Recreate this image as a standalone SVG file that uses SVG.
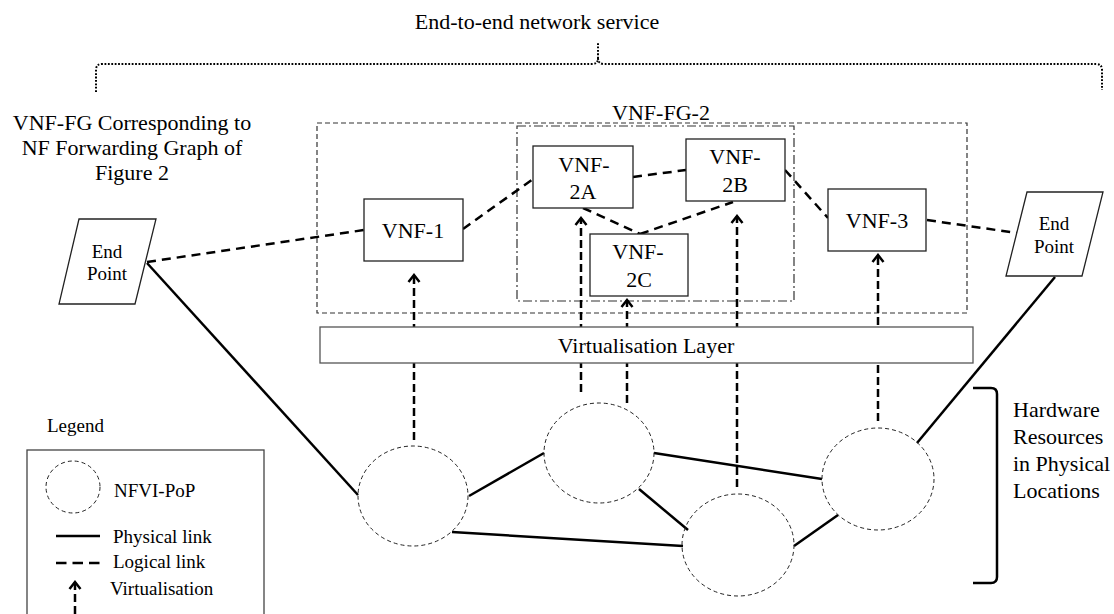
<svg xmlns="http://www.w3.org/2000/svg" width="1114" height="614" viewBox="0 0 1114 614">
<defs>
<style>
text{font-family:"Liberation Serif","Times New Roman",serif;font-size:22px;fill:#000}
.sm{font-size:19px}
.mid{text-anchor:middle}
.box{fill:#fff;stroke:#222;stroke-width:1.3}
.pop{fill:none;stroke:#222;stroke-width:1;stroke-dasharray:4 3}
.phys{stroke:#000;stroke-width:2.5;fill:none}
.logi{stroke:#000;stroke-width:2.5;fill:none;stroke-dasharray:9 6}
.virt{stroke:#000;stroke-width:2.5;fill:none;stroke-dasharray:8 4;marker-end:url(#vArrow)}
</style>
<marker id="vArrow" viewBox="-9 -7 11 14" refX="0" refY="0" markerWidth="11" markerHeight="14" markerUnits="userSpaceOnUse" orient="auto">
<path d="M-7,-5.5 L0,0 L-7,5.5" fill="none" stroke="#000" stroke-width="2.5" stroke-dasharray="none"/>
</marker>
</defs>
<rect width="1114" height="614" fill="#fff"/>

<g id="service-brace">
<path d="M96,92 V70 Q96,64 102,64 H592 Q598,64 598,58 V43 M598,58 Q598,64 604,64 H1096 Q1102,64 1102,70 V90" fill="none" stroke="#000" stroke-width="2" stroke-dasharray="1.8 1.6"/>
<text class="mid" x="537" y="29">End-to-end network service</text>
</g>

<g id="vnffg-caption">
<text class="mid" x="132" y="130">VNF-FG Corresponding to</text>
<text class="mid" x="132" y="155">NF Forwarding Graph of</text>
<text class="mid" x="132" y="180">Figure 2</text>
</g>

<g id="vnffg-box">
<rect x="317" y="123" width="650" height="190" fill="none" stroke="#333" stroke-width="1.2" stroke-dasharray="5 3"/>
</g>

<g id="vnffg2-box">
<rect x="517" y="126" width="277" height="175" fill="none" stroke="#333" stroke-width="1.2" stroke-dasharray="9 3 2 3"/>
<text class="mid" x="661" y="120">VNF-FG-2</text>
</g>

<g id="connectors">
<!-- logical links -->
<line class="logi" x1="147" y1="262" x2="364" y2="230"/>
<line class="logi" x1="463" y1="229" x2="533" y2="179"/>
<line class="logi" x1="633" y1="177" x2="686" y2="170"/>
<line class="logi" x1="583" y1="208" x2="640" y2="234"/>
<line class="logi" x1="640" y1="234" x2="733" y2="202"/>
<line class="logi" x1="785" y1="170" x2="828" y2="218"/>
<line class="logi" x1="927" y1="220" x2="1017" y2="233"/>
<!-- physical links -->
<line class="phys" x1="147" y1="263" x2="358" y2="495"/>
<line class="phys" x1="469" y1="496" x2="544" y2="453"/>
<line class="phys" x1="452" y1="532" x2="683" y2="546"/>
<line class="phys" x1="639" y1="489" x2="688" y2="530"/>
<line class="phys" x1="654" y1="453" x2="822" y2="479"/>
<line class="phys" x1="794" y1="546" x2="838" y2="515"/>
<line class="phys" x1="917" y1="443" x2="1055" y2="277"/>
<!-- virtualisation -->
<line class="virt" x1="414" y1="440" x2="414" y2="275"/>
<line class="virt" x1="581" y1="392" x2="581" y2="218"/>
<line class="virt" x1="627" y1="403" x2="627" y2="300"/>
<line class="virt" x1="737" y1="487" x2="737" y2="216"/>
<line class="virt" x1="878" y1="421" x2="878" y2="255"/>
</g>

<g id="virtualisation-layer">
<rect x="320" y="327" width="653" height="36" fill="#fff" stroke="#555" stroke-width="1.3"/>
<text class="mid" x="646" y="353">Virtualisation Layer</text>
</g>

<g id="endpoint-left">
<polygon points="79,219 156,219 135,304 59,304" class="box"/>
<text class="mid sm" x="107" y="258">End</text>
<text class="mid sm" x="107" y="280">Point</text>
</g>

<g id="endpoint-right">
<polygon points="1027,192 1103,192 1082,276 1006,276" class="box"/>
<text class="mid sm" x="1054" y="230">End</text>
<text class="mid sm" x="1054" y="253">Point</text>
</g>

<g id="vnf-1">
<rect class="box" x="364" y="199" width="99" height="62"/>
<text class="mid" x="413" y="238">VNF-1</text>
</g>

<g id="vnf-2a">
<rect class="box" x="533" y="146" width="100" height="62"/>
<text class="mid" x="584" y="172">VNF-</text>
<text class="mid" x="583" y="199">2A</text>
</g>

<g id="vnf-2b">
<rect class="box" x="686" y="139" width="99" height="62"/>
<text class="mid" x="735" y="164">VNF-</text>
<text class="mid" x="735" y="192">2B</text>
</g>

<g id="vnf-2c">
<rect class="box" x="590" y="234" width="98" height="62"/>
<text class="mid" x="638" y="259">VNF-</text>
<text class="mid" x="639" y="287">2C</text>
</g>

<g id="vnf-3">
<rect class="box" x="828" y="189" width="98" height="62"/>
<text class="mid" x="877" y="228">VNF-3</text>
</g>

<g id="pop-1"><ellipse class="pop" cx="413" cy="496" rx="55" ry="50"/></g>
<g id="pop-2"><ellipse class="pop" cx="599" cy="453" rx="55" ry="50"/></g>
<g id="pop-3"><ellipse class="pop" cx="878" cy="479" rx="56" ry="51"/></g>
<g id="pop-4"><ellipse class="pop" cx="738" cy="545" rx="56" ry="51"/></g>

<g id="hardware-bracket">
<path d="M973,388 H991 Q997,388 997,394 V577 Q997,583 991,583 H973" fill="none" stroke="#000" stroke-width="2.5"/>
<text x="1013" y="417">Hardware</text>
<text x="1013" y="444">Resources</text>
<text x="1013" y="471">in Physical</text>
<text x="1013" y="498">Locations</text>
</g>

<g id="legend">
<text class="sm" x="47" y="432">Legend</text>
<rect x="27" y="450" width="237" height="200" fill="none" stroke="#444" stroke-width="1.3"/>
<ellipse class="pop" cx="73" cy="487" rx="27" ry="26"/>
<text class="sm" x="114" y="497">NFVI-PoP</text>
<line class="phys" x1="56" y1="536" x2="100" y2="536"/>
<text class="sm" x="113" y="543">Physical link</text>
<line x1="56" y1="563" x2="100" y2="563" stroke="#000" stroke-width="2.5" stroke-dasharray="10.5 6"/>
<text class="sm" x="113" y="568">Logical link</text>
<line class="virt" x1="75" y1="614" x2="75" y2="582"/>
<text class="sm" x="110" y="595">Virtualisation</text>
</g>
</svg>
